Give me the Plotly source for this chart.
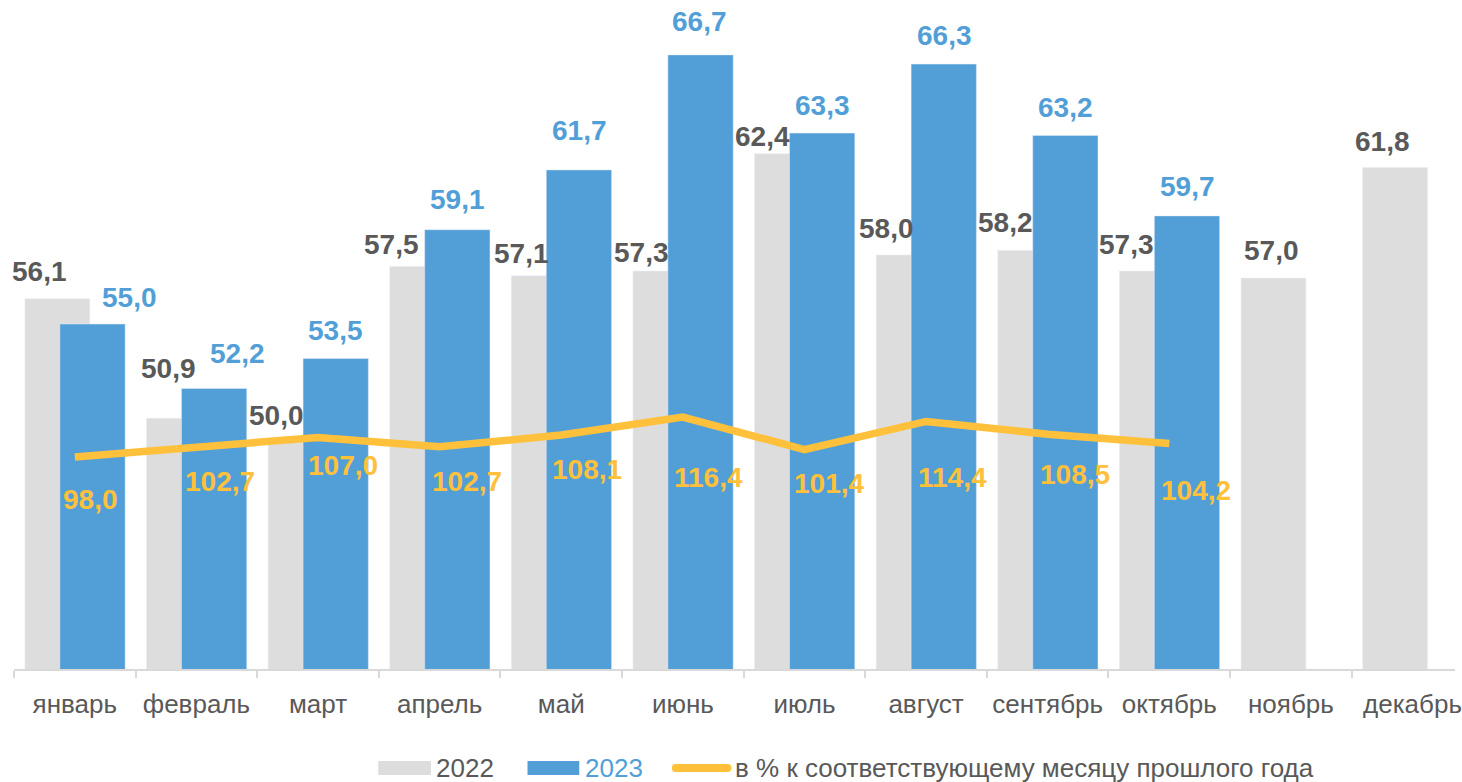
import plotly.graph_objects as go

months = ["январь", "февраль", "март", "апрель", "май", "июнь",
          "июль", "август", "сентябрь", "октябрь", "ноябрь", "декабрь"]
v2022 = [56.1, 50.9, 50.0, 57.5, 57.1, 57.3, 62.4, 58.0, 58.2, 57.3, 57.0, 61.8]
v2023 = [55.0, 52.2, 53.5, 59.1, 61.7, 66.7, 63.3, 66.3, 63.2, 59.7]
pct = [98.0, 102.7, 107.0, 102.7, 108.1, 116.4, 101.4, 114.4, 108.5, 104.2]

# label placement tweaks (pixels, relative to each mark)
shift2022 = [(-35, 27), (-28, 50), (-42, 24), (-48, 22), (-40, 22), (-41, 19),
             (-42, 17), (-40, 27), (-42, 28), (-43, 27), (-19, 28), (-30, 26)]
shift2023 = [(55, 27), (41, 35), (17, 28), (18, 30), (18, 39), (17, 33),
             (18, 28), (18, 29), (18, 28), (18, 29)]
shiftpct = [(16, -43), (24, -35), (25, -28), (27, -35), (26, -34), (26, -60),
            (25, -34), (26, -56), (27, -40), (27, -47)]

GRAY = "#DDDDDD"
BLUE = "#529FD8"
GOLD = "#FFC13B"
TXT = "#595959"
FONT = "Liberation Sans"

W, H = 1462, 782
ML, MR, MT, MB = 14, 0, 0, 113
PW, PH = W - ML - MR, H - MT - MB
CAT_PX = 122.2
PX_PER_UNIT = 23.0
PX_PER_PCT = 2.164


def fmt(v):
    return f"{v:.1f}".replace(".", ",")


fig = go.Figure()
fig.add_trace(go.Bar(x=months, y=v2022, name="2022", marker_color=GRAY,
                     offset=-0.41, width=0.533, showlegend=False))
fig.add_trace(go.Bar(x=months[:len(v2023)], y=v2023, name="2023", marker_color=BLUE,
                     offset=-0.123, width=0.537, showlegend=False))
fig.add_trace(go.Scatter(x=months[:len(pct)], y=pct, yaxis="y2", mode="lines",
                         name="в % к соответствующему месяцу прошлого года",
                         line=dict(color=GOLD, width=7.5), showlegend=False))

ann = []
for m, v, (dx, dy) in zip(months, v2022, shift2022):
    ann.append(dict(x=m, y=v, xref="x", yref="y", text=f"<b>{fmt(v)}</b>", showarrow=False,
                    xshift=dx, yshift=dy, font=dict(family=FONT, size=28, color=TXT)))
for m, v, (dx, dy) in zip(months, v2023, shift2023):
    ann.append(dict(x=m, y=v, xref="x", yref="y", text=f"<b>{fmt(v)}</b>", showarrow=False,
                    xshift=dx, yshift=dy, font=dict(family=FONT, size=28, color=BLUE)))
for m, v, (dx, dy) in zip(months, pct, shiftpct):
    ann.append(dict(x=m, y=v, xref="x", yref="y2", text=f"<b>{fmt(v)}</b>", showarrow=False,
                    xshift=dx, yshift=dy, font=dict(family=FONT, size=28, color=GOLD)))


def xp(px):
    return (px - ML) / PW


def yp(py):
    return (MT + PH - py) / PH


# custom legend
LY = 768
shapes = [
    dict(type="rect", xref="paper", yref="paper", x0=xp(380), x1=xp(433), y0=yp(775), y1=yp(761),
         fillcolor=GRAY, line=dict(width=0)),
    dict(type="rect", xref="paper", yref="paper", x0=xp(530), x1=xp(582), y0=yp(775), y1=yp(761),
         fillcolor=BLUE, line=dict(width=0)),
    dict(type="line", xref="paper", yref="paper", x0=xp(679), x1=xp(731), y0=yp(LY), y1=yp(LY),
         line=dict(color=GOLD, width=8)),
    dict(type="circle", xref="paper", yref="paper", x0=xp(675), x1=xp(683), y0=yp(LY + 4), y1=yp(LY - 4),
         fillcolor=GOLD, line=dict(width=0)),
    dict(type="circle", xref="paper", yref="paper", x0=xp(727), x1=xp(735), y0=yp(LY + 4), y1=yp(LY - 4),
         fillcolor=GOLD, line=dict(width=0)),
]
for px, txt, col in [(436, "2022", TXT), (586, "2023", BLUE),
                     (736, "в % к соответствующему месяцу прошлого года", TXT)]:
    ann.append(dict(x=xp(px), y=yp(LY), xref="paper", yref="paper", text=txt, showarrow=False,
                    xanchor="left", yanchor="middle",
                    font=dict(family=FONT, size=26, color=col)))

fig.update_layout(
    width=W, height=H,
    margin=dict(l=ML, r=MR, t=MT, b=MB),
    paper_bgcolor="white", plot_bgcolor="white",
    barmode="overlay",
    showlegend=False,
    font=dict(family=FONT, color=TXT),
    xaxis=dict(type="category", range=[-0.5, -0.5 + PW / CAT_PX],
               showline=True, linecolor="#D9D9D9", linewidth=1.5,
               ticks="outside", tickson="boundaries", ticklen=7, tickcolor="#D9D9D9", tickwidth=1.5,
               tickfont=dict(family=FONT, size=26, color=TXT), showgrid=False,
               ticklabelstandoff=11),
    yaxis=dict(range=[40, 40 + PH / PX_PER_UNIT], visible=False, showgrid=False),
    yaxis2=dict(range=[0, PH / PX_PER_PCT], overlaying="y", side="right",
                visible=False, showgrid=False),
    annotations=ann,
    shapes=shapes,
)

fig.write_html("out.html", config={"displayModeBar": False},
               post_script="document.body.style.margin='0';document.body.style.overflow='hidden';")
